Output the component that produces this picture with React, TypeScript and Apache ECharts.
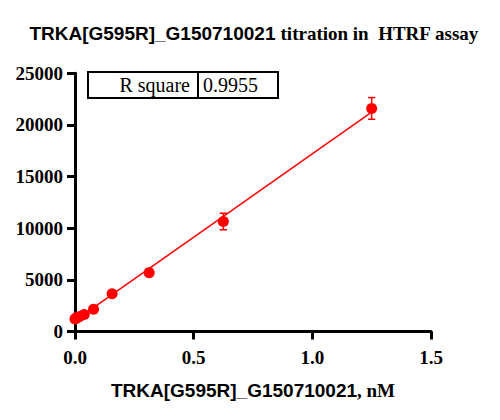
import React, { useEffect, useRef } from "react";
import * as echarts from "echarts";

const concentrations = [0, 0.00244, 0.00488, 0.00977, 0.0195, 0.0390625, 0.078125, 0.15625, 0.3125, 0.625, 1.25];
const signals = [1200, 1250, 1300, 1350, 1450, 1650, 2150, 3650, 5700, 10650, 21600];
const errors = [60, 60, 60, 60, 80, 80, 100, 150, 200, 800, 1050];
const yTicks = [0, 5000, 10000, 15000, 20000, 25000];
const xTicks = [0, 0.5, 1.0, 1.5];
const rSquareLabel = "R square";
const rSquareValue = "0.9955";

const SANS = "Liberation Sans";
const SERIF = "'Liberation Serif', 'Times New Roman', serif";
const RED = "#ff0000";

function linearFit(xs: number[], ys: number[]) {
  const n = xs.length;
  const mx = xs.reduce((a, b) => a + b, 0) / n;
  const my = ys.reduce((a, b) => a + b, 0) / n;
  let sxy = 0;
  let sxx = 0;
  for (let i = 0; i < n; i++) {
    sxy += (xs[i] - mx) * (ys[i] - my);
    sxx += (xs[i] - mx) * (xs[i] - mx);
  }
  const slope = sxy / sxx;
  return { slope, intercept: my - slope * mx };
}

export default function App() {
  const ref = useRef<HTMLDivElement>(null);
  useEffect(() => {
    if (!ref.current) return;
    const chart = echarts.init(ref.current, null, { renderer: "svg" });
    const fit = linearFit(concentrations, signals);
    const xMin = Math.min(...concentrations);
    const xMax = Math.max(...concentrations);
    const fitLine = [
      [xMin, fit.intercept + fit.slope * xMin],
      [xMax, fit.intercept + fit.slope * xMax],
    ];
    const points = concentrations.map((x, i) => [x, signals[i]]);
    const errData = concentrations.map((x, i) => [x, signals[i] - errors[i], signals[i] + errors[i]]);

    chart.setOption({
      animation: false,
      backgroundColor: "#ffffff",
      grid: { left: 75, top: 73.3, width: 356, height: 258.2, containLabel: false },
      xAxis: {
        type: "value",
        min: xTicks[0],
        max: xTicks[xTicks.length - 1],
        interval: 0.5,
        splitLine: { show: false },
        axisLine: { show: true, onZero: false, lineStyle: { color: "#000", width: 3 } },
        axisTick: { show: true, length: 8, lineStyle: { color: "#000", width: 3 } },
        axisLabel: {
          margin: 16,
          color: "#000",
          fontFamily: SERIF,
          fontWeight: "bold",
          fontSize: 19,
          formatter: (v: number) => v.toFixed(1),
        },
        name: "{a|TRKA[G595R]_G150710021}{b|, nM}",
        nameLocation: "middle",
        nameGap: 49,
        nameTextStyle: {
          rich: {
            a: { fontFamily: SANS, fontWeight: "bold", fontSize: 19, color: "#000" },
            b: { fontFamily: SERIF, fontWeight: "bold", fontSize: 19, color: "#000" },
          },
        },
      },
      yAxis: {
        type: "value",
        min: yTicks[0],
        max: yTicks[yTicks.length - 1],
        interval: 5000,
        splitLine: { show: false },
        axisLine: { show: true, onZero: false, lineStyle: { color: "#000", width: 3 } },
        axisTick: { show: true, length: 8, lineStyle: { color: "#000", width: 3 } },
        axisLabel: {
          margin: 12,
          color: "#000",
          fontFamily: SERIF,
          fontWeight: "bold",
          fontSize: 19,
          formatter: (v: number) => String(v),
        },
      },
      series: [
        {
          type: "line",
          data: fitLine,
          symbol: "none",
          lineStyle: { color: RED, width: 1.5 },
          z: 2,
        },
        {
          type: "scatter",
          data: points,
          symbol: "circle",
          symbolSize: 11,
          itemStyle: { color: RED, opacity: 1 },
          z: 3,
        },
        {
          type: "custom",
          data: errData,
          z: 4,
          renderItem: (params: any, api: any) => {
            const x = api.value(0);
            const lo = api.coord([x, api.value(1)]);
            const hi = api.coord([x, api.value(2)]);
            const hw = 3.6;
            const style = { stroke: RED, lineWidth: 1.5 };
            return {
              type: "group",
              children: [
                { type: "line", shape: { x1: lo[0], y1: lo[1], x2: hi[0], y2: hi[1] }, style },
                { type: "line", shape: { x1: lo[0] - hw, y1: lo[1], x2: lo[0] + hw, y2: lo[1] }, style },
                { type: "line", shape: { x1: hi[0] - hw, y1: hi[1], x2: hi[0] + hw, y2: hi[1] }, style },
              ],
            };
          },
        },
      ],
      graphic: [
        {
          type: "text",
          x: 254,
          y: 33,
          style: {
            text: "{a|TRKA[G595R]_G150710021}{b| titration in  HTRF assay}",
            align: "center",
            verticalAlign: "middle",
            rich: {
              a: { fontFamily: SANS, fontWeight: "bold", fontSize: 19, fill: "#000" },
              b: { fontFamily: SERIF, fontWeight: "bold", fontSize: 19, fill: "#000" },
            },
          },
        },
        {
          type: "rect",
          shape: { x: 88, y: 72, width: 190, height: 26 },
          style: { fill: "#fff", stroke: "#000", lineWidth: 2 },
          z: 10,
        },
        {
          type: "line",
          shape: { x1: 198, y1: 72, x2: 198, y2: 98 },
          style: { stroke: "#000", lineWidth: 2 },
          z: 11,
        },
        {
          type: "text",
          x: 190,
          y: 85,
          z: 11,
          style: {
            text: rSquareLabel,
            align: "right",
            verticalAlign: "middle",
            fontFamily: SERIF,
            fontSize: 20,
            fill: "#000",
          },
        },
        {
          type: "text",
          x: 203,
          y: 85,
          z: 11,
          style: {
            text: rSquareValue,
            align: "left",
            verticalAlign: "middle",
            fontFamily: SERIF,
            fontSize: 20,
            fill: "#000",
          },
        },
      ],
    });
    return () => chart.dispose();
  }, []);
  return (
    <div
      ref={ref}
      style={{ position: "fixed", left: 0, top: 0, width: 500, height: 420, background: "#fff" }}
    />
  );
}
